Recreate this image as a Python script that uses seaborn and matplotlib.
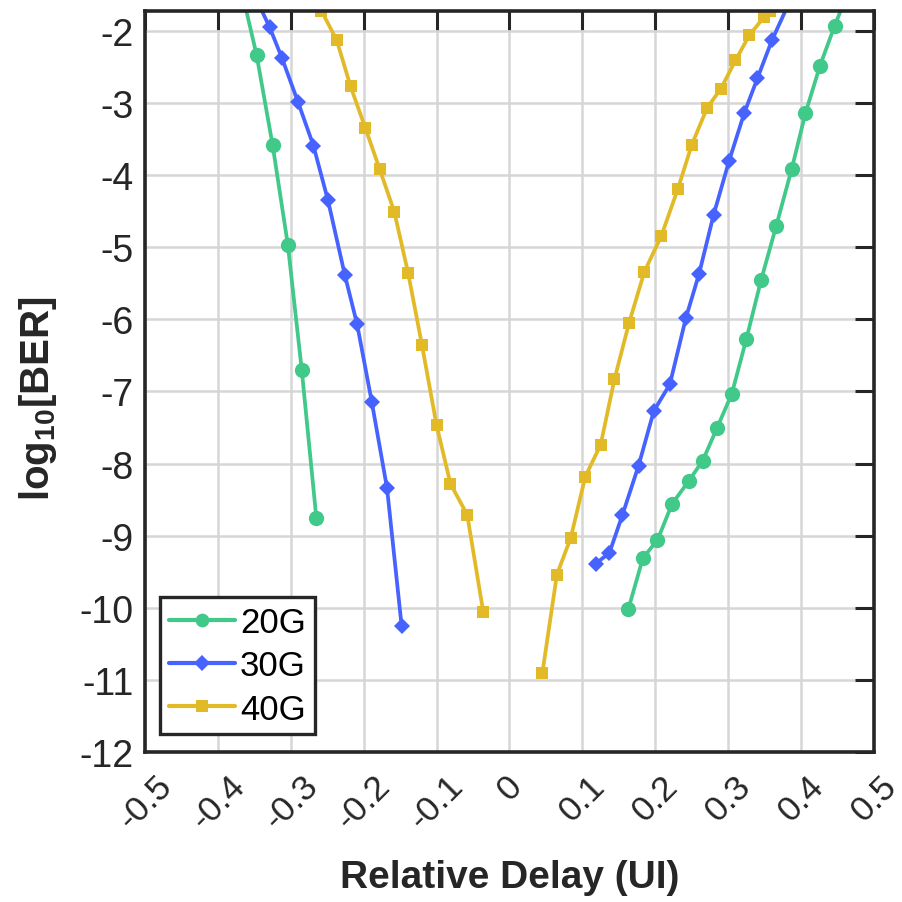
import matplotlib
matplotlib.use("Agg")
import matplotlib.pyplot as plt
import numpy as np
import pandas as pd
import seaborn as sns

# ---- measured BER curves (log10 BER vs. relative sampling delay in UI) ----
rates = ["20G", "30G", "40G"]

delay_20g_left = [-0.373, -0.347, -0.325, -0.304, -0.285, -0.265]
ber_20g_left = [-1.20, -2.33, -3.58, -4.97, -6.70, -8.75]
delay_20g_right = [0.163, 0.183, 0.203, 0.223, 0.246, 0.265, 0.285, 0.305,
                   0.325, 0.345, 0.366, 0.387, 0.406, 0.426, 0.446, 0.467]
ber_20g_right = [-10.02, -9.31, -9.06, -8.56, -8.24, -7.96, -7.50, -7.03,
                 -6.27, -5.46, -4.70, -3.92, -3.14, -2.48, -1.93, -1.40]

delay_30g_left = [-0.350, -0.329, -0.312, -0.290, -0.269, -0.249, -0.226,
                  -0.209, -0.189, -0.168, -0.148]
ber_30g_left = [-1.50, -1.95, -2.38, -2.99, -3.59, -4.35, -5.38, -6.07,
                -7.14, -8.34, -10.25]
delay_30g_right = [0.118, 0.137, 0.155, 0.177, 0.198, 0.220, 0.242, 0.260,
                   0.280, 0.301, 0.322, 0.340, 0.360, 0.384]
ber_30g_right = [-9.39, -9.24, -8.71, -8.03, -7.27, -6.90, -5.98, -5.37,
                 -4.55, -3.81, -3.14, -2.66, -2.13, -1.60]

delay_40g_left = [-0.258, -0.237, -0.218, -0.198, -0.178, -0.158, -0.139,
                  -0.120, -0.100, -0.081, -0.058, -0.036]
ber_40g_left = [-1.72, -2.13, -2.77, -3.34, -3.92, -4.51, -5.36, -6.36,
                -7.47, -8.28, -8.71, -10.06]
delay_40g_right = [0.045, 0.065, 0.084, 0.104, 0.125, 0.144, 0.164, 0.185,
                   0.208, 0.231, 0.250, 0.271, 0.290, 0.310, 0.329, 0.349,
                   0.358]
ber_40g_right = [-10.91, -9.54, -9.03, -8.18, -7.74, -6.83, -6.05, -5.34,
                 -4.85, -4.19, -3.58, -3.07, -2.80, -2.41, -2.06, -1.81,
                 -1.72]

x_ticks = [-0.5, -0.4, -0.3, -0.2, -0.1, 0.0, 0.1, 0.2, 0.3, 0.4, 0.5]
x_tick_labels = ["-0.5", "-0.4", "-0.3", "-0.2", "-0.1", "0",
                 "0.1", "0.2", "0.3", "0.4", "0.5"]
y_ticks = [-12, -11, -10, -9, -8, -7, -6, -5, -4, -3, -2]
y_tick_labels = [str(v) for v in y_ticks]

palette = {"20G": "#41C98A", "30G": "#4662FF", "40G": "#E2BA28"}
markers = {"20G": "o", "30G": "D", "40G": "s"}
marker_sizes = {"o": 11.0, "D": 8.6, "s": 9.0}

# ---- long-form table: each rate has a left and a right bathtub wall ----
pieces = [
    ("20G", "left", delay_20g_left, ber_20g_left),
    ("20G", "right", delay_20g_right, ber_20g_right),
    ("30G", "left", delay_30g_left, ber_30g_left),
    ("30G", "right", delay_30g_right, ber_30g_right),
    ("40G", "left", delay_40g_left, ber_40g_left),
    ("40G", "right", delay_40g_right, ber_40g_right),
]
df = pd.concat(
    [pd.DataFrame({"delay": d, "log_ber": b, "rate": r, "branch": side})
     for r, side, d, b in pieces],
    ignore_index=True,
)

sns.set_theme(style="white")
plt.rcParams["font.family"] = ["Liberation Sans", "DejaVu Sans"]
plt.rcParams["mathtext.fontset"] = "custom"
plt.rcParams["mathtext.rm"] = "Liberation Sans"
plt.rcParams["mathtext.bf"] = "Liberation Sans:bold"

ink = "#262626"
fig = plt.figure(figsize=(9.03, 9.03), dpi=100)
ax = fig.add_axes([145 / 903, 1 - 753 / 903, 729 / 903, (753 - 11.7) / 903])

sns.lineplot(
    data=df, x="delay", y="log_ber", hue="rate", style="rate",
    units="branch", estimator=None, sort=False,
    hue_order=rates, style_order=rates,
    palette=palette, markers=markers, dashes=False,
    linewidth=2.7, markeredgewidth=0, ax=ax,
)
for line in ax.lines:
    m = line.get_marker()
    if m in marker_sizes:
        line.set_markersize(marker_sizes[m])

ax.set_xlim(-0.5, 0.5)
ax.set_ylim(-12, -1.72)
ax.set_xticks(x_ticks)
ax.set_xticklabels(x_tick_labels, rotation=45, ha="center")
ax.set_yticks(y_ticks)
ax.set_yticklabels(y_tick_labels)

ax.grid(True, color="#d6d6d6", linewidth=1.8)
ax.set_axisbelow(True)
for sp in ax.spines.values():
    sp.set_linewidth(2.6)
    sp.set_color(ink)

ax.tick_params(axis="both", which="major", direction="in", length=14,
               width=2.2, color=ink, labelcolor=ink, labelsize=27,
               top=True, right=True)
ax.tick_params(axis="x", pad=12, labelsize=25.5)
ax.tick_params(axis="y", pad=8)

ax.set_xlabel("Relative Delay (UI)", fontsize=28, fontweight="bold",
              color=ink)
ax.xaxis.set_label_coords(0.5, -0.145)
ax.set_ylabel(r"log$_{\mathbf{10}}$[BER]", fontsize=29, fontweight="bold",
              color=ink)
ax.yaxis.set_label_coords(-0.118, 0.478)

# legend in the lower-left corner, one marker on each sample line
old = ax.get_legend()
handles = list(old.legend_handles)
labels = [t.get_text() for t in old.get_texts()]
old.remove()
for h, lab in zip(handles, labels):
    h.set_color(palette[lab])
    h.set_marker(markers[lab])
    h.set_markersize(marker_sizes[markers[lab]] * 0.9)
    h.set_markeredgewidth(0)
    h.set_linewidth(3.0)
leg = ax.legend(handles, labels, loc="lower left",
                bbox_to_anchor=(0.021, 0.024), borderaxespad=0,
                fontsize=25, frameon=True, fancybox=False, framealpha=1,
                edgecolor=ink, handlelength=1.9, handletextpad=0.15,
                labelspacing=0.3, borderpad=0.25, numpoints=1)
leg.get_frame().set_linewidth(2.4)
for t in leg.get_texts():
    t.set_color("black")

fig.savefig("out.png", dpi=100)
